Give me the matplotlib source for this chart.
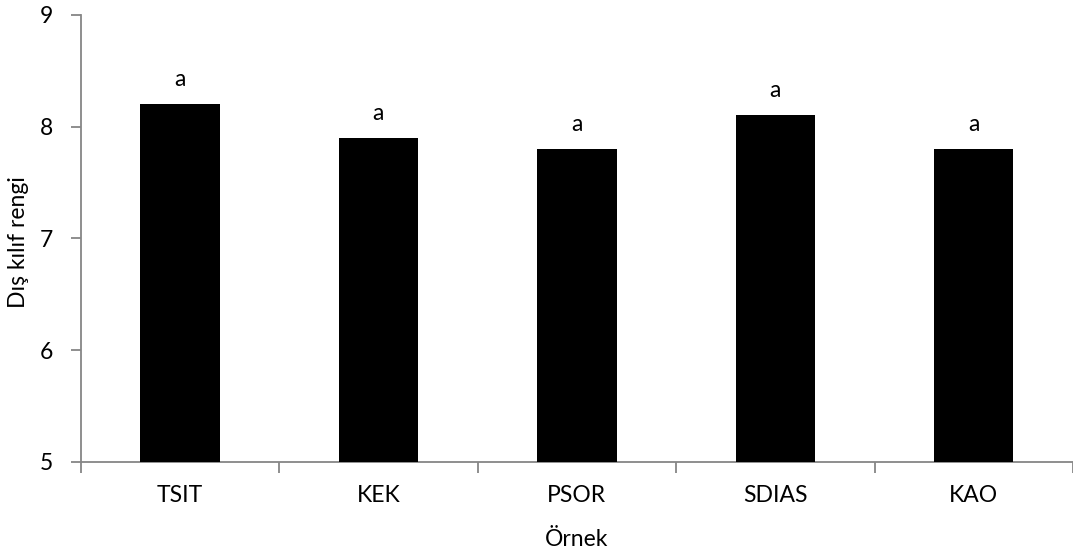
import matplotlib
matplotlib.use("Agg")
import matplotlib.pyplot as plt
from matplotlib.ticker import FixedLocator, NullFormatter

plt.rcParams['font.family'] = ['Lato', 'DejaVu Sans']

categories = ["TSIT", "KEK", "PSOR", "SDIAS", "KAO"]
values = [8.2, 7.9, 7.8, 8.1, 7.8]
letters = ["a", "a", "a", "a", "a"]
y_ticks = [5, 6, 7, 8, 9]

FS = 16.5

fig = plt.figure(figsize=(10.73, 5.53), dpi=100)
ax = fig.add_axes([0.0752, 0.165, 0.9248, 0.808])

x = list(range(len(categories)))
ax.bar(x, [v - 5 for v in values], bottom=5, width=0.4, color="black", zorder=3)

for xi, v, lab in zip(x, values, letters):
    ax.annotate(lab, (xi, v), xytext=(0, 13), textcoords="offset points",
                ha="center", va="baseline", fontsize=FS)

ax.set_xlim(-0.5, len(categories) - 0.5)
ax.set_ylim(5, 9)
ax.set_yticks(y_ticks)
ax.set_xticks(x)
ax.set_xticklabels(categories)
ax.xaxis.set_minor_locator(FixedLocator([i - 0.5 for i in range(len(categories) + 1)]))
ax.xaxis.set_minor_formatter(NullFormatter())

axis_color = "#868686"
for s in ["top", "right"]:
    ax.spines[s].set_visible(False)
for s in ["left", "bottom"]:
    ax.spines[s].set_color(axis_color)
    ax.spines[s].set_linewidth(1.3)

ax.tick_params(axis="y", direction="out", length=7, width=1.3, color=axis_color,
               labelsize=FS, pad=13)
ax.tick_params(axis="x", which="major", length=0, labelsize=FS, pad=17)
ax.tick_params(axis="x", which="minor", direction="out", length=8, width=1.3,
               color=axis_color)

ax.set_xlabel("Örnek", fontsize=FS, labelpad=16)
fig.text(19 / 1073, 1 - 242 / 553, "Dış kılıf rengi", rotation=90,
         ha="center", va="center", fontsize=FS)

fig.savefig("out.png", dpi=100)
